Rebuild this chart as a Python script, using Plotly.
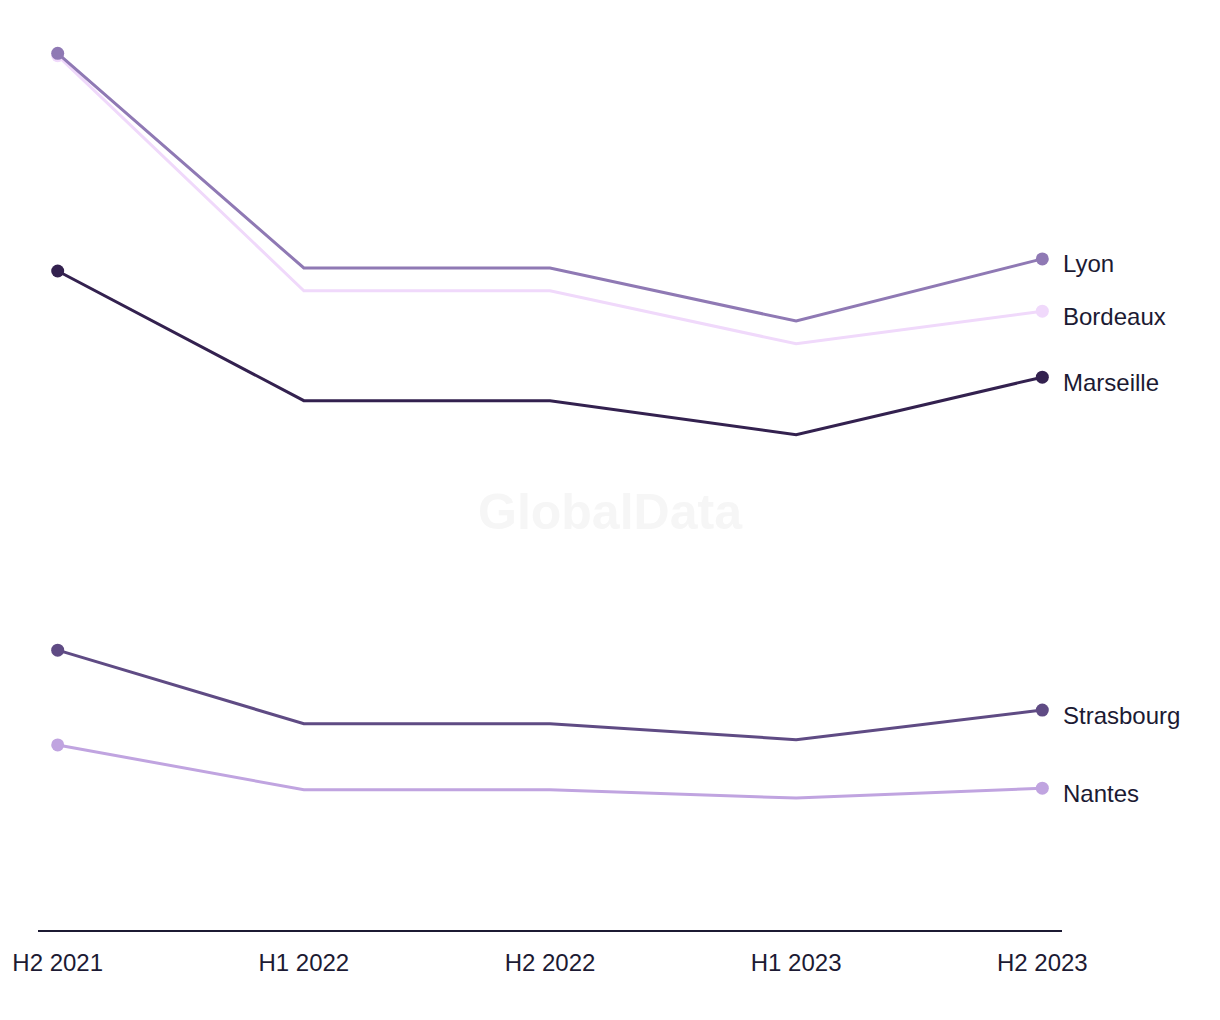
import plotly.graph_objects as go

periods = ["H2 2021", "H1 2022", "H2 2022", "H1 2023", "H2 2023"]
cities = ["Nantes", "Strasbourg", "Marseille", "Bordeaux", "Lyon"]
nantes = [24.4, 18.5, 18.5, 17.4, 18.7]
strasbourg = [36.9, 27.2, 27.2, 25.1, 29.0]
marseille = [86.9, 69.8, 69.8, 65.3, 72.9]
bordeaux = [115.3, 84.3, 84.3, 77.3, 81.6]
lyon = [115.6, 87.3, 87.3, 80.3, 88.5]
colors = ["#c0a4e0", "#5f4b84", "#33214f", "#f0d9fb", "#8f79b4"]
series = [nantes, strasbourg, marseille, bordeaux, lyon]

fig = go.Figure()
for name, vals, col in zip(cities, series, colors):
    fig.add_trace(go.Scatter(
        x=periods, y=vals, mode="lines+markers", name=name,
        line=dict(color=col, width=3),
        marker=dict(color=col, size=[13, 0, 0, 0, 13], opacity=1, line=dict(width=0)),
        showlegend=False, hoverinfo="x+y+name",
    ))
    fig.add_annotation(
        x=periods[-1], y=vals[-1], text=name, showarrow=False,
        xanchor="left", yanchor="middle", xshift=19, yshift=-5,
        font=dict(family="Liberation Sans, Arial, sans-serif", size=24, color="#1c1a33"),
    )

fig.add_annotation(
    xref="paper", yref="paper", x=0.559, y=0.459, text="<b>GlobalData</b>",
    showarrow=False, font=dict(family="Liberation Sans, Arial, sans-serif", size=50, color="#f6f6f6"),
)

fig.update_layout(
    width=1220, height=1020,
    margin=dict(l=30, r=166, t=12, b=98, autoexpand=False),
    plot_bgcolor="white", paper_bgcolor="white",
    xaxis=dict(
        type="category", range=[-0.08, 4.08], showgrid=False, zeroline=False,
        showline=True, linecolor="#1c1a33", linewidth=2, automargin=False,
        ticks="", ticklabelstandoff=10,
        tickfont=dict(family="Liberation Sans, Arial, sans-serif", size=24, color="#1c1a33"),
    ),
    yaxis=dict(range=[0, 120], visible=False, showgrid=False, zeroline=False, automargin=False),
)

fig.write_html("out.html")
